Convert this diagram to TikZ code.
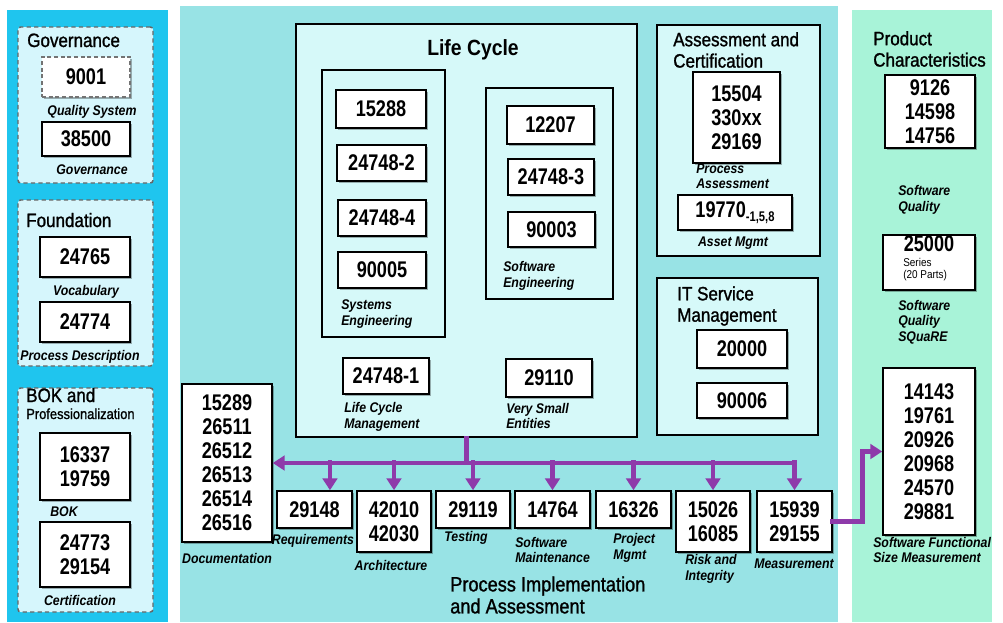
\documentclass[tikz,border=0pt]{standalone}
\usepackage{fontspec}
\setmainfont[FakeStretch=0.88]{Liberation Sans}
\newfontfamily\numfam[FakeStretch=0.8]{Liberation Sans}
\newfontfamily\ttlfam[FakeStretch=0.88, FakeBold=1.2]{Liberation Sans}
\usepackage{tikz}
\usetikzlibrary{arrows.meta, positioning, fit, shadows}

\definecolor{leftcyan}{RGB}{31,197,238}
\definecolor{dashfill}{RGB}{214,246,252}
\definecolor{midteal}{RGB}{152,227,229}
\definecolor{lcfill}{RGB}{214,249,249}
\definecolor{mintpanel}{RGB}{168,243,216}
\definecolor{flowpurple}{RGB}{142,58,170}

\newcommand{\numfont}{\numfam\bfseries\fontsize{17pt}{18pt}\selectfont}
\newcommand{\ttlfont}{\ttlfam\fontsize{14.5pt}{16pt}\selectfont}
\newcommand{\lblfont}{\bfseries\itshape\fontsize{10.5pt}{11.5pt}\selectfont}

\begin{document}
\begin{tikzpicture}[x=0.75pt, y=-0.75pt,
  numbox/.style={draw, fill=white, line width=1.1pt, inner sep=0pt, align=center, font=\numfont,
    drop shadow={shadow xshift=1.6pt, shadow yshift=-1.6pt, fill=black, opacity=0.3}},
  sz/.style 2 args={minimum width=#1*0.75pt, minimum height=#2*0.75pt},
  grpbox/.style={draw, fill=lcfill, line width=1.1pt, inner sep=0pt},
  dashbox/.style={draw=black!60, fill=dashfill, line width=1.1pt, dash pattern=on 3.2pt off 2.4pt,
    rounded corners=2pt, inner sep=0pt},
  ttl/.style={font=\ttlfont, inner sep=0pt, align=left},
  lbl/.style={font=\lblfont, inner sep=0pt, align=left},
  flow/.style={draw=flowpurple, line width=3.6pt, line cap=rect, -{Triangle[length=9pt, width=11pt]}}]
  \useasboundingbox (0,0) rectangle (1003,622);

  % Left column: governance, foundation, BOK
  \fill[leftcyan] (7,10) rectangle (168,622);
  \node[dashbox, fit={(18,27) (153,183)}] (govgrp) {};
  \node[dashbox, fit={(18,200) (153,366)}] (fndgrp) {};
  \node[dashbox, fit={(18,388) (153,612)}] (bokgrp) {};
  \node[ttl, anchor=base west] (govttl) at (27,47) {Governance};
  \node[numbox, sz={88}{40}, draw=black!55, dash pattern=on 3pt off 2pt] (n9001) at (86,77) {9001};
  \node[lbl] (qual) at (92,112) {Quality System};
  \node[numbox, sz={88}{34}] (n38500) at (86,139) {38500};
  \node[lbl] (gov) at (92,170) {Governance};
  \node[ttl, anchor=base west] (fndttl) at (26,227) {Foundation};
  \node[numbox, sz={90}{40}] (n24765) at (85,257) {24765};
  \node[lbl] (vocab) at (86,292) {Vocabulary};
  \node[numbox, sz={90}{40}] (n24774) at (85,322) {24774};
  \node[lbl] (procdesc) at (80,357) {Process Description};
  \node[ttl, anchor=base west] (bokttl) at (26,402) {BOK and};
  \node[anchor=base west, inner sep=0pt, font=\ttlfam\fontsize{11pt}{12pt}\selectfont] (profttl) at (26,419) {Professionalization};
  \node[numbox, sz={90}{67}] (nbok) at (85,466.5) {16337\\19759};
  \node[lbl] (bok) at (64,512) {BOK};
  \node[numbox, sz={90}{65}] (ncert) at (85,554.5) {24773\\29154};
  \node[lbl] (cert) at (80,600) {Certification};

  % Middle: life cycle
  \fill[midteal] (180,6) rectangle (838,622);
  \node[grpbox, fit={(296,24) (637,437)}, line width=1.4pt] (lc) {};
  \node[font=\bfseries\fontsize{16.5pt}{18pt}\selectfont, inner sep=0pt] (lcttl) at (473,50) {Life Cycle};
  \node[grpbox, fit={(322,70) (445,337)}] (sysgrp) {};
  \node[numbox, sz={90}{38}] (n15288) at (381,109) {15288};
  \node[numbox, sz={89}{36}] (n24748b) at (381.5,163) {24748-2};
  \node[numbox, sz={88}{36}] (n24748d) at (382,218) {24748-4};
  \node[numbox, sz={88}{36}] (n90005) at (382,270) {90005};
  \node[lbl, anchor=west] (syseng) at (341,314) {Systems\\Engineering};
  \node[grpbox, fit={(486,88) (613,299)}] (swgrp) {};
  \node[numbox, sz={87}{38}] (n12207) at (550.5,125) {12207};
  \node[numbox, sz={86}{36}] (n24748c) at (551,177) {24748-3};
  \node[numbox, sz={87}{35}] (n90003) at (551.5,229.5) {90003};
  \node[lbl, anchor=west] (sweng) at (503,276) {Software\\Engineering};
  \node[numbox, sz={86}{36}] (n24748a) at (386,376) {24748-1};
  \node[lbl, anchor=west] (lcm) at (344,417) {Life Cycle\\Management};
  \node[numbox, sz={86}{38}] (n29110) at (549,378) {29110};
  \node[lbl, anchor=west] (vse) at (506,416) {Very Small\\Entities};

  % Middle: assessment and IT service
  \node[grpbox, fit={(657,25) (820,256)}] (acgrp) {};
  \node[ttl, anchor=west] (acttl) at (673,50) {Assessment and\\Certification};
  \node[numbox, sz={87}{91}] (pa) at (736.5,117.5) {15504\\330xx\\29169};
  \node[lbl, anchor=west] (palbl) at (696,176) {Process\\Assessment};
  \node[numbox, sz={114}{35}] (asset) at (735,212.5) {19770{\fontsize{10.5pt}{10pt}\selectfont\raisebox{-3pt}{-1,5,8}}};
  \node[lbl] (assetlbl) at (733,243) {Asset Mgmt};
  \node[grpbox, fit={(657,278) (818,435)}] (itgrp) {};
  \node[ttl, anchor=west] (itttl) at (677,306) {IT Service\\Management};
  \node[numbox, sz={90}{38}] (n20000) at (742,349) {20000};
  \node[numbox, sz={90}{35}] (n90006) at (742,400.5) {90006};

  % Middle: process implementation row
  \node[numbox, sz={90}{158}] (doc) at (227,463) {15289\\26511\\26512\\26513\\26514\\26516};
  \node[lbl] (doclbl) at (227,558) {Documentation};
  \node[numbox, sz={75}{37}] (req) at (314.5,509.5) {29148};
  \node[lbl] (reqlbl) at (313,541) {Requirements};
  \node[numbox, sz={74}{61}] (arch) at (394,521.5) {42010\\42030};
  \node[lbl] (archlbl) at (391,565) {Architecture};
  \node[numbox, sz={74}{37}] (test) at (473,509.5) {29119};
  \node[lbl] (testlbl) at (466,538) {Testing};
  \node[numbox, sz={75}{37}] (maint) at (552.5,509.5) {14764};
  \node[lbl, anchor=west] (maintlbl) at (515,550) {Software\\Maintenance};
  \node[numbox, sz={75}{37}] (pm) at (633.5,509.5) {16326};
  \node[lbl, anchor=west] (pmlbl) at (613,548) {Project\\Mgmt};
  \node[numbox, sz={74}{61}] (risk) at (713,521.5) {15026\\16085};
  \node[lbl, anchor=west] (risklbl) at (685,569) {Risk and\\Integrity};
  \node[numbox, sz={75}{61}] (meas) at (794.5,521.5) {15939\\29155};
  \node[lbl] (measlbl) at (794,564) {Measurement};
  \node[ttl, anchor=west, font=\ttlfam\fontsize{15.5pt}{16.5pt}\selectfont] (pia) at (450,595) {Process Implementation\\and Assessment};

  % Right column: product characteristics
  \fill[mintpanel] (852,10) rectangle (992,622);
  \node[ttl, anchor=west] (prodttl) at (873,49) {Product\\Characteristics};
  \node[numbox, sz={90}{73}] (swq) at (930,111.5) {9126\\14598\\14756};
  \node[lbl, anchor=west] (swqlbl) at (898,200) {Software\\Quality};
  \node[numbox, sz={92}{55}] (square) at (929,262.5) {};
  \node[font=\numfont, inner sep=0pt] (sqnum) at (929,244) {25000};
  \node[anchor=west, inner sep=0pt, align=left, font=\fontsize{8.5pt}{9pt}\selectfont] (sqser) at (903,270) {Series\\(20 Parts)};
  \node[lbl, anchor=west] (sqlbl) at (898,322) {Software\\Quality\\SQuaRE};
  \node[numbox, sz={92}{167}] (fsm) at (929,451.5) {14143\\19761\\20926\\20968\\24570\\29881};
  \node[lbl, anchor=west] (fsmlbl) at (873,550) {Software Functional\\Size Measurement};

  % Flows
  \coordinate (bus) at (466,463);
  \draw[flow, -] (lc.south) -- (lc.south |- bus);
  \draw[flow] (meas.north |- bus) -- (doc.east |- bus);
  \foreach \b/\dx in {req/11.6, arch/0, test/0, maint/0, pm/0, risk/0, meas/0}
    \draw[flow] ([xshift=\dx pt, yshift=21pt]\b.north) -- ([xshift=\dx pt]\b.north);
  \draw[flow] (meas.east) -- ++(30,0) |- (fsm.west);
\end{tikzpicture}
\end{document}
